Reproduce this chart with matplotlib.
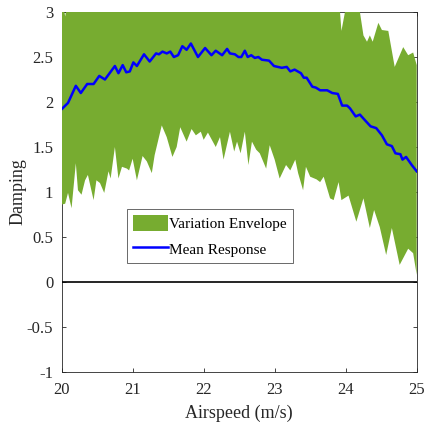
import numpy as np
import matplotlib
matplotlib.use("Agg")
import matplotlib.pyplot as plt
from matplotlib.ticker import FuncFormatter

plt.rcParams['font.family'] = ['Liberation Serif', 'DejaVu Serif']
plt.rcParams['axes.unicode_minus'] = False

# mean damping vs airspeed
v_mean = [20.00, 20.09, 20.20, 20.27, 20.36, 20.45, 20.53, 20.61, 20.75, 20.80,
          20.86, 20.91, 20.96, 21.01, 21.06, 21.16, 21.24, 21.33, 21.37, 21.42,
          21.48, 21.53, 21.58, 21.64, 21.70, 21.76, 21.82, 21.92, 22.02, 22.11,
          22.17, 22.26, 22.33, 22.37, 22.44, 22.49, 22.53, 22.58, 22.62, 22.67,
          22.72, 22.77, 22.82, 22.92, 22.99, 23.10, 23.17, 23.22, 23.28, 23.37,
          23.41, 23.45, 23.53, 23.58, 23.64, 23.74, 23.81, 23.89, 23.95, 24.02,
          24.06, 24.14, 24.20, 24.28, 24.35, 24.43, 24.51, 24.58, 24.65, 24.70,
          24.77, 24.80, 24.85, 24.93, 25.00]
d_mean = [1.92, 1.99, 2.18, 2.10, 2.20, 2.20, 2.29, 2.25, 2.40, 2.32,
          2.41, 2.33, 2.34, 2.44, 2.40, 2.53, 2.45, 2.54, 2.53, 2.56,
          2.54, 2.56, 2.50, 2.52, 2.62, 2.58, 2.65, 2.50, 2.60, 2.52,
          2.57, 2.52, 2.59, 2.54, 2.53, 2.50, 2.50, 2.57, 2.50, 2.52,
          2.49, 2.50, 2.47, 2.46, 2.40, 2.38, 2.39, 2.34, 2.36, 2.32,
          2.27, 2.27, 2.17, 2.16, 2.13, 2.13, 2.10, 2.09, 1.96, 1.96,
          1.93, 1.84, 1.86, 1.79, 1.73, 1.71, 1.63, 1.53, 1.51, 1.43,
          1.42, 1.36, 1.39, 1.30, 1.23]

# upper edge of the envelope
v_up = [20.00, 20.04, 20.05, 20.06, 23.92, 23.94, 23.99, 24.20, 24.25, 24.30,
        24.34, 24.38, 24.46, 24.51, 24.60, 24.69, 24.81, 24.88, 24.95, 25.00]
d_up = [3.00, 3.00, 2.95, 3.00, 3.00, 2.79, 3.00, 3.00, 2.74, 2.67,
        2.74, 2.67, 2.88, 2.80, 2.79, 2.39, 2.61, 2.52, 2.55, 2.41]

# lower edge of the envelope
v_lo = [20.00, 20.05, 20.09, 20.14, 20.20, 20.23, 20.28, 20.33, 20.37, 20.45,
        20.49, 20.54, 20.60, 20.66, 20.69, 20.75, 20.80, 20.85, 20.92, 20.95,
        21.00, 21.06, 21.14, 21.20, 21.27, 21.31, 21.41, 21.48, 21.56, 21.62,
        21.67, 21.76, 21.83, 21.89, 21.96, 22.00, 22.06, 22.17, 22.23, 22.28,
        22.37, 22.43, 22.47, 22.52, 22.58, 22.63, 22.68, 22.74, 22.79, 22.88,
        22.93, 23.00, 23.07, 23.16, 23.22, 23.29, 23.33, 23.40, 23.44, 23.50,
        23.59, 23.64, 23.69, 23.78, 23.83, 23.90, 23.94, 24.04, 24.15, 24.25,
        24.34, 24.40, 24.48, 24.57, 24.65, 24.76, 24.88, 24.95, 25.00]
d_lo = [0.86, 0.87, 0.99, 0.82, 1.32, 1.02, 0.97, 1.13, 1.19, 0.91,
        1.13, 1.10, 0.99, 1.23, 1.15, 1.50, 1.15, 1.28, 1.26, 1.24,
        1.37, 1.13, 1.40, 1.34, 1.21, 1.41, 1.74, 1.61, 1.39, 1.50,
        1.72, 1.56, 1.70, 1.63, 1.67, 1.58, 1.66, 1.50, 1.61, 1.36,
        1.67, 1.45, 1.56, 1.43, 1.67, 1.30, 1.56, 1.47, 1.43, 1.26,
        1.52, 1.36, 1.15, 1.30, 1.24, 1.36, 1.21, 1.02, 1.28, 1.17,
        1.14, 1.11, 1.17, 0.93, 0.91, 1.11, 0.91, 0.96, 0.67, 0.93,
        0.60, 0.80, 0.61, 0.30, 0.60, 0.19, 0.37, 0.32, 0.08]

fig = plt.figure(figsize=(4.25, 4.23), dpi=100)
ax = fig.add_axes([0.145, 0.1206, 0.8355, 0.851])

env_x = np.concatenate([v_up, v_lo[::-1]])
env_y = np.concatenate([d_up, d_lo[::-1]])
ax.fill(env_x, env_y, color='#77AC30', lw=0, zorder=3, label='Variation Envelope')
ax.plot(v_mean, d_mean, color='blue', lw=1.8, zorder=4, label='Mean Response')
ax.axhline(0, color='black', lw=1.2, zorder=4)

ax.set_xlim(20, 25)
ax.set_ylim(-1, 3)
ax.set_xticks([20, 21, 22, 23, 24, 25])
ax.set_yticks(np.arange(-1, 3.01, 0.5))
ax.yaxis.set_major_formatter(FuncFormatter(lambda v, p: '%g' % v))

for s in ax.spines.values():
    s.set_linewidth(0.6)
    s.set_color('#262626')
ax.tick_params(direction='in', length=3, width=0.6, colors='#262626',
               labelsize=12, top=True, right=True)
ax.tick_params(axis='x', pad=7)
ax.tick_params(axis='y', pad=6)

ax.set_xlabel('Airspeed (m/s)', fontsize=13, color='#262626', labelpad=5)
ax.set_ylabel('Damping', fontsize=13, color='#262626', labelpad=0)

leg = ax.legend(loc='upper left', bbox_to_anchor=(0.183, 0.452), borderaxespad=0,
                fancybox=False, fontsize=11, handlelength=2.3, handleheight=1.2,
                handletextpad=0.1, labelspacing=0.6, borderpad=0.4)
leg.get_frame().set_edgecolor('#262626')
leg.get_frame().set_linewidth(0.6)
leg.set_zorder(5)

fig.savefig('out.png', dpi=100)
